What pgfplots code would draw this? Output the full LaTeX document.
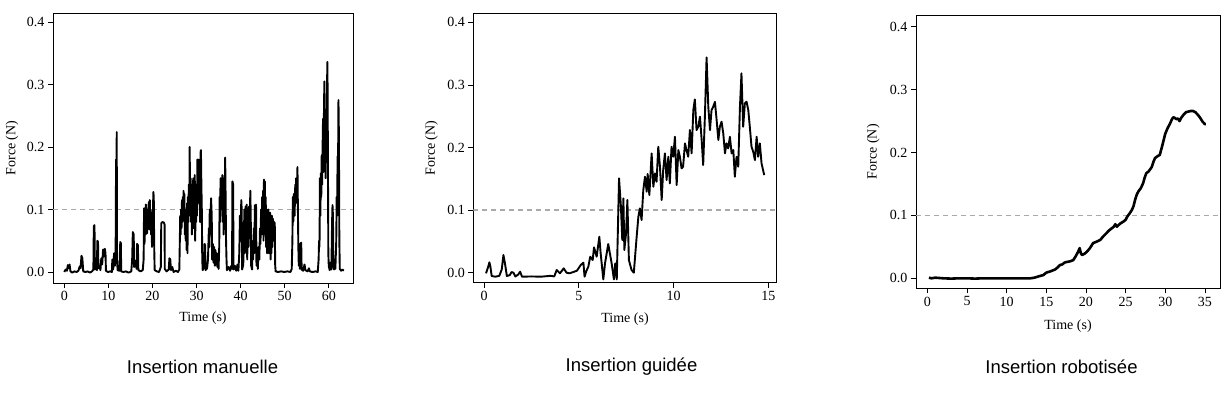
\documentclass[border=0pt]{standalone}
\usepackage{fontspec}
\setmainfont{Liberation Serif}
\newfontfamily\capfont{Liberation Sans}
\usepackage{pgfplots}
\pgfplotsset{compat=1.18}
\definecolor{refgray}{RGB}{170,170,170}
\newcommand{\axfont}{\fontsize{14bp}{16bp}\selectfont}
\pgfplotsset{
  forceaxis/.style={
    scale only axis,
    axis line style={line width=0.8bp},
    every tick/.style={line width=0.8bp, black},
    tick align=outside,
    major tick length=5bp,
    xtick pos=bottom, ytick pos=left,
    ytick={0,0.1,0.2,0.3,0.4},
    /pgf/number format/assume math mode=true,
    yticklabel style={/pgf/number format/.cd,fixed,fixed zerofill,precision=1},
    tick label style={font=\axfont},
    ylabel={Force (N)}, xlabel={Time (s)},
    clip=true,
  },
  dataline/.style={black, line width=1.9bp, line join=round, no markers},
  refline/.style={refgray, line width=1.3bp, dash pattern=on 5bp off 4bp, forget plot},
}
\begin{document}
\begin{tikzpicture}[x=1bp,y=1bp]
\path[use as bounding box] (0,0) rectangle (1230,395);

% ---------------- Panel 1: manual ----------------
\begin{axis}[forceaxis,
  at={(53bp,112bp)}, anchor=south west,
  width=300bp, height=270bp,
  xmin=-2.56, xmax=65.5, ymin=-0.0176, ymax=0.4144,
  xtick={0,10,20,30,40,50,60},
  every axis y label/.style={at={(axis description cs:-0.137,0.5)}, rotate=90, anchor=center, font=\axfont},
  every axis x label/.style={at={(axis description cs:0.5,-0.13)}, anchor=center, font=\axfont},
]
\addplot[refline] coordinates {(-2.56,0.1) (65.5,0.1)};
\addplot[dataline] coordinates {
(0,0.0) (0.3,0.004) (0.6,0.002) (0.8,0.011) (1.0,0.006) (1.2,0.012) (1.4,0.001) (1.8,-0.001) (2.3,0.001) (2.8,0.0) (3.2,0.002) (3.5,0.009) (3.7,0.006) (3.9,0.026) (4.1,0.022) (4.3,0.001) (4.8,0.0) (5.3,0.001) (5.8,-0.001) (6.3,0.001) (6.6,0.004) (6.7,0.073) (6.85,0.075) (6.95,0.004) (7.2,0.01) (7.4,0.003) (7.5,0.05) (7.65,0.048) (7.75,0.006) (8.0,0.01) (8.2,0.003) (8.4,0.022) (8.6,0.012) (8.8,0.036) (9.0,0.025) (9.2,0.037) (9.35,0.03) (9.45,0.002) (9.9,0.0) (10.4,0.001) (10.8,0.0) (10.9,0.02) (11.1,0.004) (11.3,0.03) (11.5,0.01) (11.65,0.035) (11.75,0.18) (11.8,0.12) (11.9,0.224) (11.95,0.02) (12.1,0.003) (12.5,0.002) (12.7,0.048) (12.85,0.046) (12.9,0.001) (13.4,0.0) (14.0,0.001) (14.6,-0.001) (15.2,0.001) (15.4,0.02) (15.55,0.064) (15.75,0.06) (15.85,0.008) (16.1,0.018) (16.4,0.005) (16.5,0.045) (16.7,0.043) (16.8,0.003) (17.3,0.001) (17.8,0.003) (18.0,0.02) (18.1,0.102) (18.2,0.045) (18.35,0.09) (18.45,0.06) (18.5,0.108) (18.6,0.07) (18.7,0.095) (18.8,0.062) (18.9,0.1) (19.0,0.07) (19.1,0.105) (19.2,0.112) (19.3,0.068) (19.4,0.115) (19.5,0.075) (19.6,0.09) (19.7,0.06) (19.8,0.095) (19.9,0.04) (20.0,0.1) (20.1,0.085) (20.2,0.128) (20.3,0.12) (20.4,0.04) (20.5,0.003) (21.0,0.001) (21.5,0.0) (21.9,0.008) (22.0,0.078) (22.3,0.08) (22.6,0.079) (22.75,0.076) (22.8,0.005) (23.2,0.001) (23.7,0.004) (23.85,0.022) (24.05,0.02) (24.2,0.003) (24.5,0.008) (24.8,0.0) (25.3,0.002) (25.8,0.0) (26.1,0.004) (26.2,0.045) (26.3,0.09) (26.4,0.06) (26.5,0.1) (26.6,0.07) (26.7,0.115) (26.8,0.08) (26.9,0.12) (27.0,0.09) (27.05,0.13) (27.15,0.1) (27.25,0.125) (27.35,0.06) (27.45,0.1) (27.55,0.05) (27.65,0.09) (27.75,0.035) (27.85,0.11) (27.95,0.03) (28.05,0.12) (28.15,0.08) (28.25,0.14) (28.35,0.09) (28.45,0.2) (28.55,0.1) (28.65,0.15) (28.75,0.08) (28.85,0.14) (28.95,0.06) (29.05,0.13) (29.15,0.09) (29.25,0.15) (29.35,0.07) (29.45,0.14) (29.55,0.1) (29.6,0.155) (29.7,0.05) (29.8,0.12) (29.9,0.08) (30.0,0.14) (30.1,0.09) (30.2,0.18) (30.3,0.11) (30.4,0.16) (30.5,0.18) (30.6,0.12) (30.7,0.17) (30.8,0.08) (30.9,0.19) (31.0,0.195) (31.1,0.14) (31.2,0.1) (31.3,0.02) (31.4,0.003) (31.7,0.008) (31.85,0.045) (31.95,0.042) (32.05,0.003) (32.4,0.006) (32.6,0.02) (32.8,0.07) (32.9,0.04) (33.0,0.1) (33.1,0.06) (33.3,0.118) (33.45,0.09) (33.55,0.02) (33.7,0.045) (33.85,0.015) (34.0,0.04) (34.15,0.01) (34.3,0.035) (34.45,0.012) (34.6,0.03) (34.75,0.008) (34.9,0.025) (35.0,0.005) (35.15,0.04) (35.25,0.12) (35.35,0.08) (35.45,0.15) (35.55,0.1) (35.65,0.145) (35.75,0.11) (35.85,0.155) (35.95,0.08) (36.05,0.15) (36.15,0.06) (36.25,0.14) (36.35,0.1) (36.5,0.183) (36.6,0.12) (36.7,0.05) (36.8,0.02) (36.9,0.003) (37.3,0.008) (37.6,0.002) (37.9,0.01) (38.05,0.005) (38.15,0.145) (38.3,0.14) (38.4,0.004) (38.7,0.01) (39.0,0.002) (39.3,0.012) (39.5,0.002) (39.7,0.03) (39.85,0.09) (40.0,0.05) (40.15,0.115) (40.25,0.1) (40.35,0.004) (40.6,0.012) (40.75,0.05) (40.85,0.1) (40.95,0.03) (41.05,0.09) (41.15,0.105) (41.25,0.04) (41.4,0.108) (41.5,0.02) (41.65,0.09) (41.8,0.04) (41.95,0.105) (42.05,0.06) (42.2,0.13) (42.3,0.09) (42.4,0.01) (42.6,0.004) (42.75,0.05) (42.85,0.02) (43.0,0.07) (43.1,0.03) (43.25,0.107) (43.4,0.09) (43.5,0.108) (43.6,0.01) (43.75,0.03) (43.9,0.005) (44.1,0.04) (44.25,0.02) (44.4,0.07) (44.5,0.045) (44.65,0.1) (44.75,0.06) (44.9,0.12) (45.0,0.07) (45.1,0.13) (45.2,0.05) (45.3,0.148) (45.4,0.09) (45.5,0.145) (45.6,0.06) (45.7,0.12) (45.8,0.04) (45.9,0.1) (46.0,0.03) (46.1,0.09) (46.2,0.05) (46.3,0.1) (46.4,0.03) (46.5,0.09) (46.6,0.04) (46.7,0.095) (46.8,0.02) (46.9,0.08) (47.0,0.03) (47.1,0.09) (47.2,0.04) (47.35,0.085) (47.5,0.05) (47.6,0.08) (47.75,0.078) (47.85,0.01) (47.95,0.001) (48.5,0.0) (49.2,0.001) (49.9,0.0) (50.6,0.001) (51.3,0.0) (51.6,0.005) (51.75,0.05) (51.85,0.12) (51.95,0.08) (52.1,0.125) (52.25,0.09) (52.4,0.14) (52.5,0.11) (52.6,0.15) (52.75,0.12) (52.9,0.168) (53.0,0.1) (53.1,0.04) (53.2,0.01) (53.35,0.03) (53.45,0.005) (53.6,0.045) (53.75,0.047) (53.85,0.004) (54.2,0.002) (54.5,0.012) (54.7,0.003) (55.2,0.001) (55.5,0.006) (55.7,0.001) (56.3,0.0) (57.0,0.001) (57.5,0.0) (57.7,0.02) (57.8,0.05) (57.9,0.04) (58.0,0.15) (58.1,0.09) (58.2,0.158) (58.3,0.12) (58.4,0.187) (58.5,0.14) (58.6,0.2) (58.7,0.245) (58.8,0.16) (58.9,0.25) (59.0,0.305) (59.1,0.2) (59.2,0.24) (59.3,0.15) (59.4,0.26) (59.5,0.18) (59.6,0.3) (59.7,0.336) (59.8,0.2) (59.9,0.03) (60.0,0.01) (60.2,0.003) (60.4,0.015) (60.6,0.004) (60.75,0.08) (60.85,0.107) (60.95,0.09) (61.05,0.01) (61.2,0.004) (61.4,0.02) (61.5,0.005) (61.7,0.05) (61.8,0.12) (61.9,0.09) (62.0,0.185) (62.1,0.16) (62.2,0.275) (62.3,0.22) (62.4,0.05) (62.5,0.005) (62.8,0.002) (63.1,0.004) (63.4,0.002)
};
\end{axis}

% ---------------- Panel 2: guided ----------------
\begin{axis}[forceaxis,
  at={(473.3bp,112.3bp)}, anchor=south west,
  width=303.4bp, height=269.4bp,
  xmin=-0.57, xmax=15.44, ymin=-0.0160, ymax=0.4146,
  xtick={0,5,10,15},
  every axis y label/.style={at={(axis description cs:-0.138,0.5)}, rotate=90, anchor=center, font=\axfont},
  every axis x label/.style={at={(axis description cs:0.5,-0.137)}, anchor=center, font=\axfont},
]
\addplot[refline] coordinates {(-0.57,0.1) (15.44,0.1)};
\addplot[dataline] coordinates {
(0.1,-0.001) (0.2,0.008) (0.28,0.0165) (0.33,0.01) (0.4,-0.0053) (0.6,-0.0064) (0.8,-0.005) (0.93,0.005) (1.02,0.0282) (1.1,0.015) (1.2,-0.0053) (1.35,-0.004) (1.45,0.001) (1.55,0.0) (1.65,-0.006) (1.8,-0.003) (1.9,0.0016) (2.0,-0.0064) (2.5,-0.006) (3.0,-0.0064) (3.5,-0.005) (3.7,-0.006) (3.83,0.0043) (4.0,-0.001) (4.2,0.0069) (4.35,0.0) (4.5,-0.001) (4.7,0.001) (4.9,0.0032) (5.1,0.0123) (5.24,0.016) (5.3,-0.0064) (5.4,0.003) (5.5,0.0096) (5.6,0.0256) (5.73,0.0202) (5.8,0.0405) (5.94,0.0256) (6.08,0.0575) (6.15,0.0309) (6.29,-0.0107) (6.38,0.0149) (6.55,0.0458) (6.73,0.0149) (6.85,-0.0107) (6.92,0.0149) (7.0,-0.0107) (7.12,0.1507) (7.22,0.1055) (7.29,0.0522) (7.35,0.1188) (7.4,0.0362) (7.49,0.0628) (7.56,0.1161) (7.64,0.0202) (7.78,0.0043) (7.9,0.0) (8.05,0.0575) (8.14,0.0895) (8.22,0.1028) (8.31,0.0842) (8.4,0.1321) (8.49,0.1534) (8.58,0.1294) (8.63,0.1577) (8.72,0.1241) (8.84,0.1907) (8.93,0.1374) (9.02,0.1587) (9.1,0.1454) (9.19,0.2013) (9.28,0.1694) (9.37,0.1161) (9.45,0.164) (9.54,0.1907) (9.63,0.1481) (9.72,0.1853) (9.8,0.1427) (9.89,0.2013) (9.98,0.1853) (10.07,0.2173) (10.16,0.1401) (10.25,0.196) (10.33,0.1853) (10.42,0.1667) (10.5,0.1694) (10.6,0.2067) (10.68,0.196) (10.77,0.1853) (10.86,0.228) (10.95,0.1907) (11.04,0.2599) (11.12,0.277) (11.21,0.228) (11.3,0.2333) (11.39,0.2493) (11.48,0.212) (11.56,0.172) (11.65,0.2493) (11.74,0.3441) (11.83,0.2652) (11.92,0.228) (12.0,0.2599) (12.09,0.2652) (12.18,0.2732) (12.27,0.2439) (12.36,0.212) (12.44,0.2333) (12.53,0.2413) (12.62,0.2226) (12.71,0.1907) (12.79,0.2067) (12.88,0.1987) (12.97,0.2173) (13.06,0.1907) (13.15,0.196) (13.23,0.1534) (13.32,0.1853) (13.41,0.1694) (13.5,0.2652) (13.58,0.3185) (13.67,0.2333) (13.76,0.2706) (13.85,0.2732) (13.94,0.2599) (14.02,0.2333) (14.11,0.2013) (14.2,0.1933) (14.29,0.18) (14.38,0.2173) (14.46,0.1853) (14.55,0.2067) (14.64,0.1747) (14.78,0.156)
};
\end{axis}

% ---------------- Panel 3: robotic ----------------
\begin{axis}[forceaxis,
  at={(916bp,106.7bp)}, anchor=south west,
  width=304bp, height=273.3bp,
  xmin=-1.43, xmax=36.9, ymin=-0.0159, ymax=0.4186,
  xtick={0,5,10,15,20,25,30,35},
  every axis y label/.style={at={(axis description cs:-0.141,0.5)}, rotate=90, anchor=center, font=\axfont},
  every axis x label/.style={at={(axis description cs:0.5,-0.139)}, anchor=center, font=\axfont},
]
\addplot[refline] coordinates {(-1.43,0.1) (36.9,0.1)};
\addplot[dataline, line width=2.6bp] coordinates {
(0.2,0.001) (0.5,0.0) (1,0.001) (2,0.0) (3,-0.0005) (4,0.0) (5,0.0) (6,-0.0005) (7,0.0) (8,0.0) (9,0.0) (10,0.0) (11,0.0) (12,0.0) (13,0.0) (13.5,0.001) (14.2,0.0037) (14.6,0.005) (15.0,0.009) (15.5,0.011) (16.1,0.014) (16.4,0.017) (16.7,0.021) (17.0,0.022) (17.3,0.025) (17.6,0.026) (18.0,0.027) (18.4,0.029) (18.7,0.035) (19.0,0.042) (19.2,0.048) (19.35,0.04) (19.5,0.037) (19.8,0.039) (20.1,0.042) (20.5,0.048) (20.9,0.056) (21.3,0.058) (21.8,0.061) (22.2,0.067) (22.6,0.072) (22.9,0.076) (23.2,0.079) (23.5,0.082) (23.7,0.086) (23.9,0.082) (24.3,0.087) (24.7,0.09) (25.0,0.093) (25.2,0.098) (25.5,0.103) (25.8,0.109) (26.0,0.115) (26.2,0.125) (26.4,0.133) (26.6,0.138) (26.9,0.143) (27.2,0.151) (27.4,0.16) (27.6,0.167) (27.9,0.17) (28.3,0.177) (28.5,0.185) (28.7,0.191) (29.0,0.194) (29.3,0.196) (29.6,0.21) (30.0,0.23) (30.3,0.239) (30.6,0.246) (30.8,0.252) (31.0,0.256) (31.2,0.255) (31.4,0.253) (31.6,0.254) (31.8,0.25) (32.0,0.255) (32.3,0.26) (32.6,0.264) (32.9,0.265) (33.2,0.266) (33.5,0.266) (33.8,0.264) (34.1,0.26) (34.4,0.255) (34.7,0.249) (35.0,0.245) (35.1,0.245)
};
\end{axis}

\node[font=\capfont\fontsize{18.5bp}{21bp}\selectfont] at (202.5,28) {Insertion manuelle};
\node[font=\capfont\fontsize{18.5bp}{21bp}\selectfont] at (631.5,28) {Insertion guidée};
\node[font=\capfont\fontsize{18.5bp}{21bp}\selectfont] at (1061.5,28) {Insertion robotisée};
\end{tikzpicture}
\end{document}
